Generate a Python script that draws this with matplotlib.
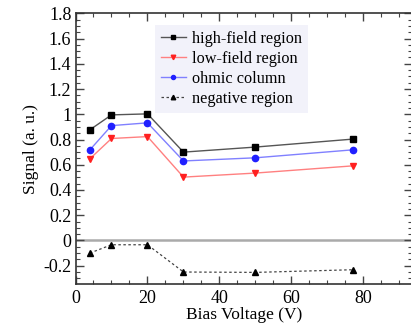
import matplotlib
matplotlib.use("Agg")
import matplotlib.pyplot as plt
from matplotlib.ticker import MultipleLocator

plt.rcParams['font.family'] = ['Liberation Serif', 'DejaVu Serif']
plt.rcParams['mathtext.fontset'] = 'stix'

bias = [4, 10, 20, 30, 50, 77]
high_field = [0.877, 0.995, 1.003, 0.70, 0.74, 0.803]
low_field = [0.647, 0.808, 0.823, 0.502, 0.534, 0.591]
ohmic = [0.718, 0.91, 0.932, 0.63, 0.655, 0.718]
negative = [-0.10, -0.034, -0.034, -0.25, -0.253, -0.232]

W, H = 411, 324
fig = plt.figure(figsize=(W / 100, H / 100), dpi=100)
left, right, top, bottom = 75.5, 412, 13.3, 284
ax = fig.add_axes([left / W, 1 - bottom / H, (right - left) / W, (bottom - top) / H])

ax.axhline(0, color='#aaaaaa', lw=1.8, zorder=1)
ax.plot(bias, high_field, color='#555555', lw=1.0, marker='s', ms=4.5, mfc='black', mec='black', label='high-field region')
ax.plot(bias, low_field, color='#ff8080', lw=1.0, marker='v', ms=5, mfc='#ff2020', mec='#ff2020', label='low-field region')
ax.plot(bias, ohmic, color='#8080ff', lw=1.0, marker='o', ms=4.5, mfc='#2020ff', mec='#2020ff', label='ohmic column')
ax.plot(bias, negative, color='#444444', lw=0.9, ls=(0, (2, 2)), marker='^', ms=5, mfc='black', mec='black', label='negative region')

ax.set_xlim(0, 93.5)
ax.set_ylim(-0.345, 1.8)
ax.xaxis.set_minor_locator(MultipleLocator(5))
ax.yaxis.set_minor_locator(MultipleLocator(0.05))
xt = [0, 20, 40, 60, 80]
ax.set_xticks(xt)
ax.set_xticklabels(['0', '20', '40', '60', '80'])
yt = [-0.2, 0, 0.2, 0.4, 0.6, 0.8, 1, 1.2, 1.4, 1.6, 1.8]
ax.set_yticks(yt)
ax.set_yticklabels(['-0.2', '0', '0.2', '0.4', '0.6', '0.8', '1', '1.2', '1.4', '1.6', '1.8'])
ax.tick_params(which='both', direction='in', top=True, right=True, color='#444444', labelsize=13)
ax.tick_params(axis='x', pad=4)
ax.tick_params(axis='y', pad=3)
ax.tick_params(which='major', length=6, width=1)
ax.tick_params(which='minor', length=3, width=0.8)
for s in ax.spines.values():
    s.set_color('#333333')
    s.set_linewidth(1.2)

ax.set_xlabel('Bias Voltage (V)', fontsize=12.5, labelpad=0)
ax.set_ylabel('Signal (a. u.)', fontsize=12.5, labelpad=3)

leg = ax.legend(loc='upper left', bbox_to_anchor=((155 - left) / (right - left), 1 - (25 - top) / (bottom - top)),
                fontsize=11.7, frameon=True, fancybox=False, handlelength=1.55, handletextpad=0.4,
                labelspacing=0.25, borderpad=0.35, borderaxespad=0, markerscale=0.65)
leg.get_frame().set_facecolor('#f2f2fa')
leg.get_frame().set_edgecolor('none')
leg.get_frame().set_alpha(1)

fig.savefig('out.png', dpi=100)
